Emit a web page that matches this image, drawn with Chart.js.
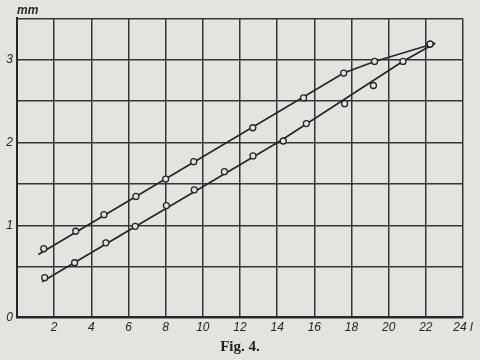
<!DOCTYPE html>
<html>
<head>
<meta charset="utf-8">
<script src="https://cdn.jsdelivr.net/npm/chart.js@4/dist/chart.umd.min.js"></script>
<style>
  html, body { margin: 0; padding: 0; background: #e3e3e0; }
  canvas { display: block; }
</style>
</head>
<body>
<canvas id="c" width="480" height="360"></canvas>
<script>
// measured points (x in l, y in mm)
const upperX = [1.44, 3.16, 4.68, 6.40, 8.00, 9.51, 12.69, 15.42, 17.58, 19.24, 22.23];
const upperY = [0.72, 0.93, 1.13, 1.35, 1.56, 1.77, 2.18, 2.54, 2.84, 2.98, 3.19];
const lowerX = [1.49, 3.10, 4.78, 6.36, 8.04, 9.54, 11.16, 12.70, 14.33, 15.57, 17.63, 19.18, 20.77, 22.23];
const lowerY = [0.37, 0.55, 0.79, 0.99, 1.24, 1.43, 1.65, 1.84, 2.02, 2.23, 2.47, 2.69, 2.98, 3.19];
// drawn (fitted) lines
const upperLineX = [1.15, 17.58, 19.24, 22.50];
const upperLineY = [0.65, 2.84, 2.98, 3.20];
const lowerLineX = [1.35, 14.16, 20.75, 22.50];
const lowerLineY = [0.32, 2.02, 2.98, 3.20];
// axes
const xTicks = [0, 2, 4, 6, 8, 10, 12, 14, 16, 18, 20, 22, 24];
const xTickLabels = ['', '2', '4', '6', '8', '10', '12', '14', '16', '18', '20', '22', '24 l'];
const yBase = -0.11;   // bottom edge of the drawn grid (labelled 0)
const yTicks = [yBase, 0.5, 1, 1.5, 2, 2.5, 3, 3.5];
const yTickLabels = ['0', '', '1', '', '2', '', '3', ''];
const yUnit = 'mm';
const caption = 'Fig. 4.';

const zip = (xs, ys) => xs.map((x, i) => ({ x: x, y: ys[i] }));
const ink = '#262626';
const paper = '#e3e3e0';
const tickFont = { family: "'Liberation Sans', 'DejaVu Sans', sans-serif", style: 'italic', size: 12 };

new Chart(document.getElementById('c'), {
  type: 'scatter',
  data: {
    datasets: [
      { data: zip(upperX, upperY), showLine: false, pointRadius: 3, pointBorderWidth: 1.3,
        pointBackgroundColor: paper, pointBorderColor: ink },
      { data: zip(lowerX, lowerY), showLine: false, pointRadius: 3, pointBorderWidth: 1.3,
        pointBackgroundColor: paper, pointBorderColor: ink },
      { data: zip(upperLineX, upperLineY), showLine: true, pointRadius: 0, borderColor: ink,
        borderWidth: 1.7, tension: 0 },
      { data: zip(lowerLineX, lowerLineY), showLine: true, pointRadius: 0, borderColor: ink,
        borderWidth: 1.7, tension: 0 }
    ]
  },
  options: {
    responsive: false,
    animation: false,
    events: [],
    layout: { padding: { left: 0, right: 17, top: 0, bottom: 0 } },
    plugins: {
      legend: { display: false },
      tooltip: { enabled: false },
      title: { display: true, text: yUnit, position: 'top', align: 'start', fullSize: false,
        color: ink, font: tickFont, padding: { top: 3, bottom: 1 } },
      subtitle: { display: true, text: caption, position: 'bottom', fullSize: false, color: '#1e1e1e',
        font: { family: "'Liberation Serif', 'DejaVu Serif', serif", size: 15, weight: 'bold' },
        padding: { top: 0, bottom: 4 } }
    },
    scales: {
      x: {
        type: 'linear', min: 0, max: 24,
        afterBuildTicks: s => { s.ticks = xTicks.map(v => ({ value: v })); },
        afterFit: s => { s.height = 20.6; },
        ticks: { color: ink, font: tickFont, padding: 3, maxRotation: 0, autoSkip: false,
          callback: (v, i) => xTickLabels[i] },
        grid: { color: '#363636', lineWidth: 1.5, drawTicks: false },
        border: { color: ink, width: 2 }
      },
      y: {
        type: 'linear', min: yBase, max: 3.5,
        afterBuildTicks: s => { s.ticks = yTicks.map(v => ({ value: v })); },
        afterFit: s => { s.width = 17; },
        ticks: { color: ink, font: tickFont, padding: 4, autoSkip: false,
          callback: (v, i) => yTickLabels[i] },
        grid: { color: '#363636', lineWidth: 1.5, drawTicks: false },
        border: { color: ink, width: 2 }
      }
    }
  }
});
</script>
</body>
</html>
